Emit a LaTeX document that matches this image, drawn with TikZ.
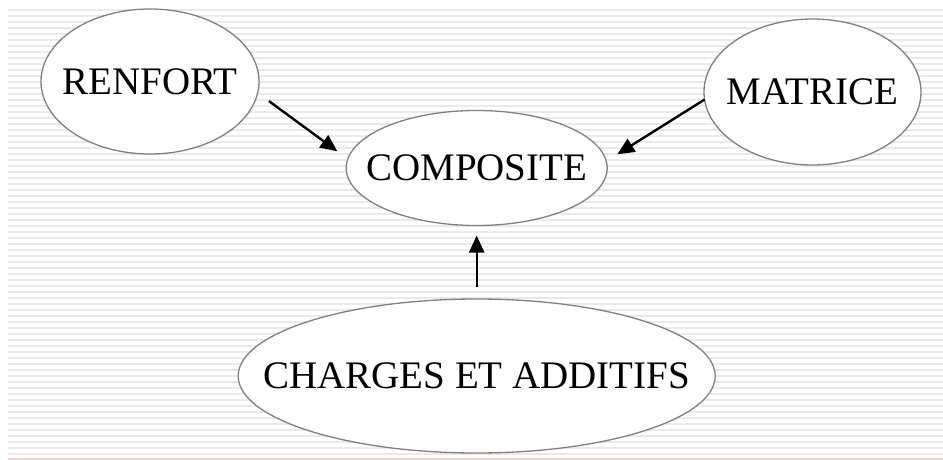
\documentclass[tikz,border=0pt]{standalone}
\usepackage{fontspec}
\setmainfont{Liberation Serif}
\usetikzlibrary{shapes.geometric,arrows.meta}
\definecolor{stripegray}{HTML}{EAEAEA}
\definecolor{edgegray}{HTML}{808080}
\definecolor{pinkline}{HTML}{F0D4D4}
\tikzset{
  stripe/.style={draw=stripegray,line width=2pt},
  bubble/.style={ellipse,draw=edgegray,line width=1.3pt,fill=white,inner sep=0pt,outer sep=0pt,
    font=\fontsize{39}{44}\selectfont},
  arr/.style={-{Triangle[length=17pt,width=15pt]},line width=2.4pt,black}
}
\begin{document}
\begin{tikzpicture}[x=1pt,y=-1pt]
\useasboundingbox (0,0) rectangle (943,460);
\fill[white] (0,0) rectangle (943,460);
\foreach \yy in {10,16,...,457} \draw[stripe] (8,\yy) -- (943,\yy);
\draw[pinkline,line width=1.2pt] (8,459) -- (943,459);
\node[bubble,minimum width=218pt,minimum height=145pt] (renfort) at (150,81.5) {\makebox[0pt]{RENFORT}};
\node[bubble,minimum width=261pt,minimum height=115pt] (composite) at (476.7,168) {\makebox[0pt]{COMPOSITE}};
\node[bubble,minimum width=217pt,minimum height=146pt] (matrice) at (812.5,92) {\makebox[0pt]{MATRICE}};
\node[bubble,minimum width=477pt,minimum height=154pt] (charges) at (476.7,376) {\makebox[0pt]{CHARGES ET ADDITIFS}};
\draw[arr,shorten <=14pt,shorten >=13pt] (renfort.-6.2) -- (composite.176.3);
\draw[arr,shorten >=13pt] (matrice.184.7) -- (composite.3.7);
\draw[arr,shorten <=12pt,shorten >=10pt] (charges.north) -- (composite.south);
\end{tikzpicture}
\end{document}
